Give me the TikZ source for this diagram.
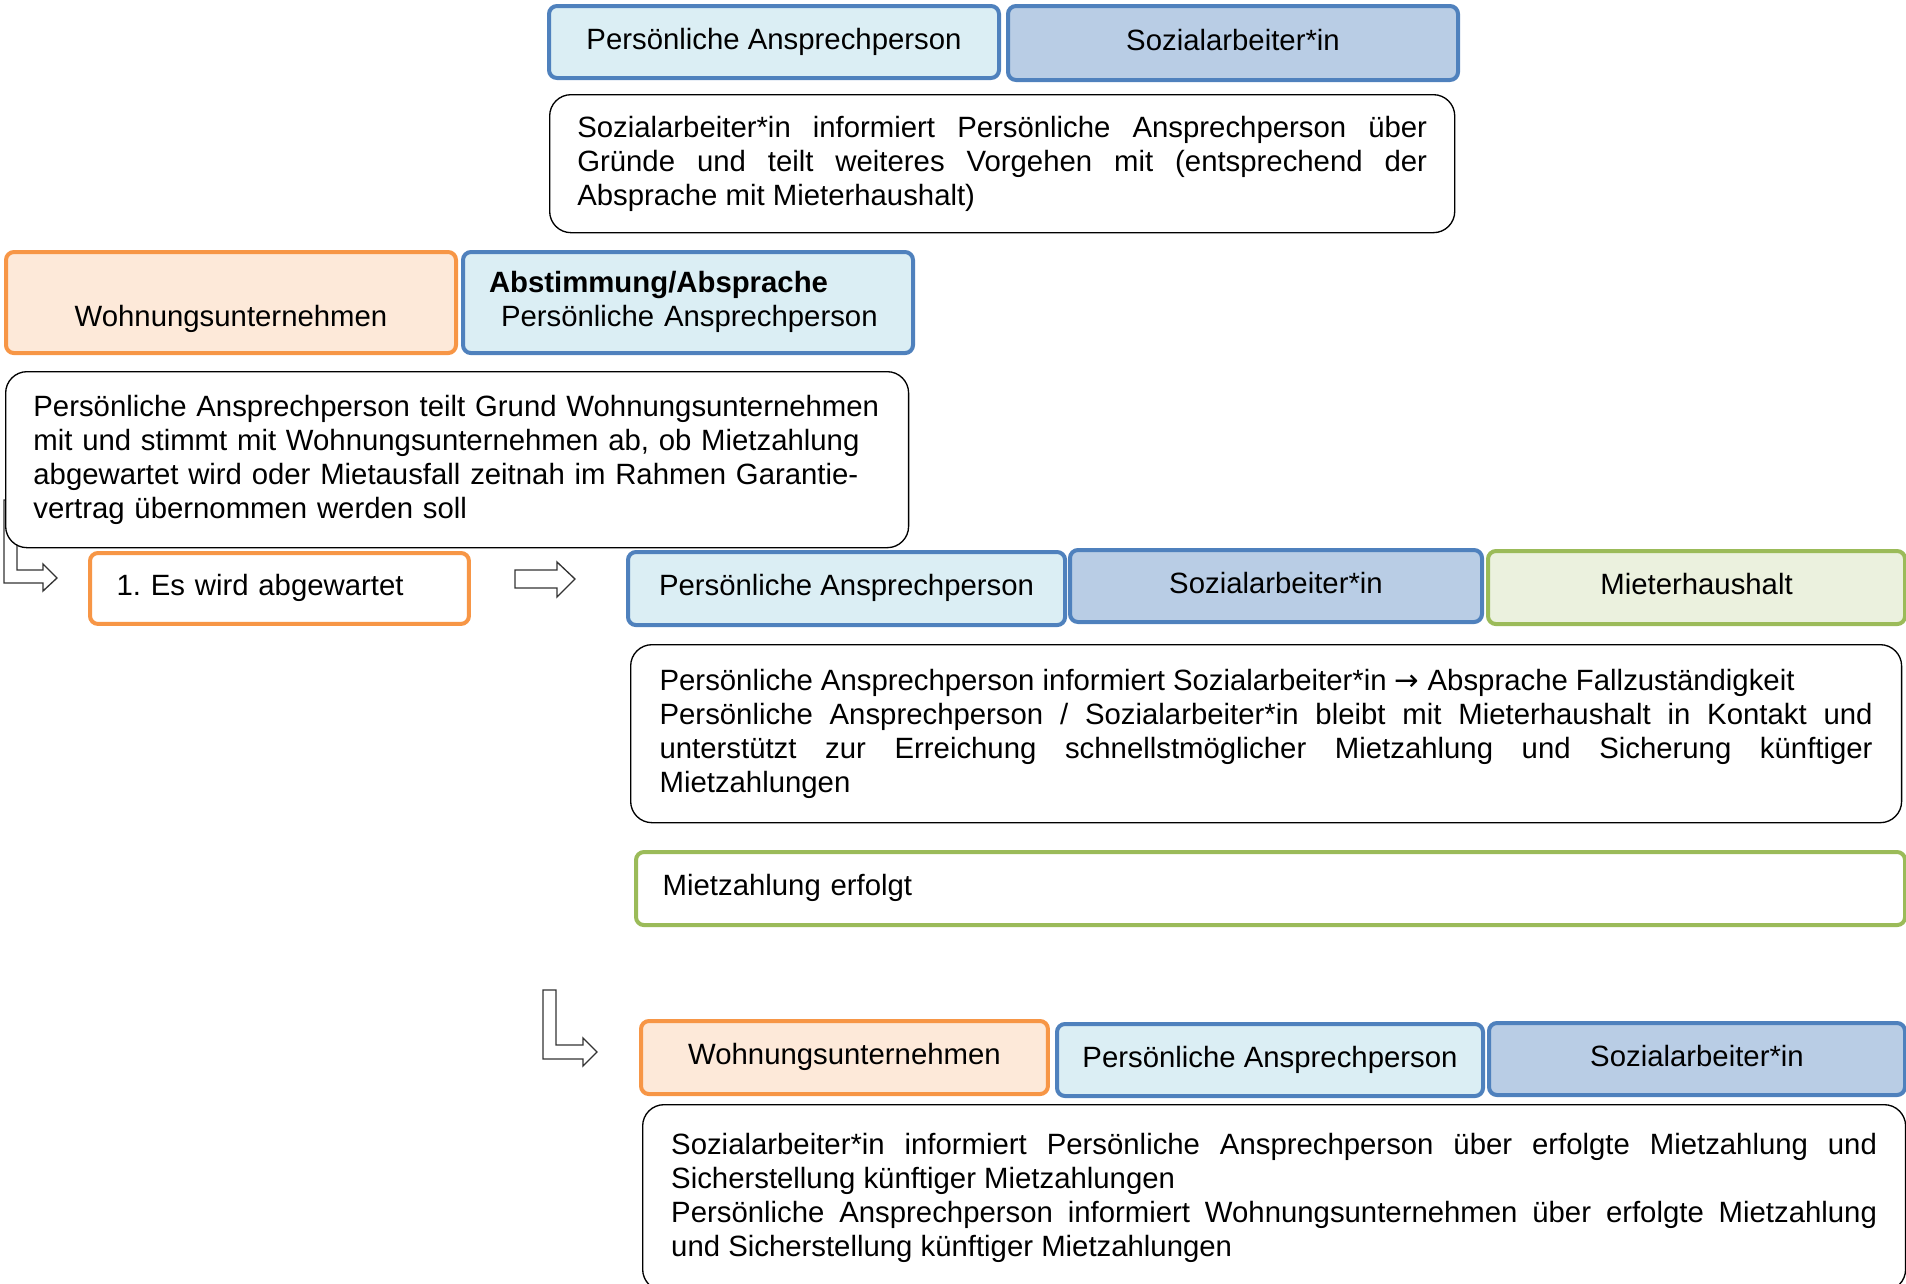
\documentclass[tikz,border=0pt]{standalone}
\usepackage{fontspec}
\setmainfont{Liberation Sans}
\newfontfamily\arrowfont{DejaVu Sans}
\usepackage{xcolor}
\usepackage{tikz}
\definecolor{roleline}{HTML}{4F81BD}
\definecolor{rolepale}{HTML}{DBEEF4}
\definecolor{rolesteel}{HTML}{B9CDE5}
\definecolor{firmline}{HTML}{F79646}
\definecolor{firmpale}{HTML}{FDE9D9}
\definecolor{tenantline}{HTML}{9BBB59}
\definecolor{tenantpale}{HTML}{EBF1DE}
\hyphenpenalty=10000
\exhyphenpenalty=10000
\tolerance=10000
\tikzset{
  bodyfont/.style={font=\fontsize{11}{12.75}\selectfont},
  rolebox/.style={bodyfont, anchor=north west, rounded corners=3pt, line width=1.5pt,
    inner sep=0pt, align=center, text height=8pt, text depth=2.6pt},
  contact/.style={rolebox, draw=roleline, fill=rolepale},
  social/.style={rolebox, draw=roleline, fill=rolesteel},
  firm/.style={rolebox, draw=firmline, fill=firmpale},
  tenant/.style={rolebox, draw=tenantline, fill=tenantpale},
  notebox/.style={bodyfont, anchor=north west, draw=black, fill=white, line width=0.5pt,
    rounded corners=8pt, inner ysep=0pt},
  blockarrow/.style={draw=black!80, fill=white, line width=0.5pt}
}

\begin{document}
\begin{tikzpicture}[x=0.375pt,y=-0.375pt]
      \clip (0,0) rectangle (1906,1283);
      % Pfeile
      \draw[blockarrow] (4,500) -- (17,500) -- (17,570) -- (43,570) -- (43,564) -- (57,578)
        -- (43,591) -- (43,583) -- (4,583) -- cycle;
      \draw[blockarrow] (515,570) -- (557,570) -- (557,562) -- (575,579) -- (557,597)
        -- (557,588) -- (515,588) -- cycle;
      \draw[blockarrow] (543,990) -- (556,990) -- (556,1045) -- (583,1045) -- (583,1038)
        -- (597,1052) -- (583,1066) -- (583,1059) -- (543,1059) -- cycle;

      % oben
      \node[contact, minimum width=168.75pt, minimum height=27pt] (pa1) at (547,4)
        {Persönliche Ansprechperson};
      \node[social, minimum width=168.75pt, minimum height=27.75pt] (sa1) at (1006,4)
        {Sozialarbeiter*in};
      \node[notebox, minimum width=339.4pt, minimum height=51.75pt, text width=318.7pt,
            inner xsep=10.35pt, align=justify] (info1) at (549,94)
        {Sozialarbeiter*in informiert Persönliche Ansprechperson über\linebreak
         Gründe und teilt weiteres Vorgehen mit (entsprechend der\linebreak
         Absprache mit Mieterhaushalt)};

      % Abstimmung
      \node[firm, minimum width=168.75pt, minimum height=37.9pt, text height=20.8pt] (wu1) at (4,250)
        {\strut\\Wohnungsunternehmen};
      \node[contact, minimum width=168.75pt, minimum height=37.9pt, text height=8pt,
            text depth=15.35pt, text width=149.25pt, inner xsep=9.75pt, align=left] (pa0) at (461,250)
        {\textbf{Abstimmung/Absprache}\\\hspace*{4.5pt}Persönliche Ansprechperson};
      \node[notebox, minimum width=338.6pt, minimum height=66pt, text width=317.8pt,
            inner xsep=10.4pt, align=left] (info2) at (5,371)
        {Persönliche Ansprechperson teilt Grund Wohnungsunternehmen\\
         mit und stimmt mit Wohnungsunternehmen ab, ob Mietzahlung\\
         abgewartet wird oder Mietausfall zeitnah im Rahmen Garantie-\\
         vertrag übernommen werden soll};

      % 1. Es wird abgewartet
      \node[firm, fill=white, minimum width=142.1pt, minimum height=26.6pt, text width=122.1pt,
            inner xsep=10pt, align=left] (wait) at (88,551) {1.\ Es wird abgewartet};
      \node[contact, minimum width=163.9pt, minimum height=27.4pt] (pa2) at (626,550)
        {Persönliche Ansprechperson};
      \node[social, minimum width=154.5pt, minimum height=27pt] (sa2) at (1068,548)
        {Sozialarbeiter*in};
      \node[tenant, minimum width=156.4pt, minimum height=27.4pt] (mh2) at (1486,549)
        {Mieterhaushalt};
      \node[notebox, minimum width=476.6pt, minimum height=66.75pt, text width=454.9pt,
            inner xsep=10.85pt, align=justify] (info3) at (630,644)
        {Persönliche Ansprechperson informiert Sozialarbeiter*in {\arrowfont →} Absprache Fallzuständigkeit\\
         Persönliche Ansprechperson / Sozialarbeiter*in bleibt mit Mieterhaushalt in Kontakt und\linebreak
         unterstützt zur Erreichung schnellstmöglicher Mietzahlung und Sicherung künftiger\linebreak
         Mietzahlungen};
      \node[tenant, fill=white, minimum width=475.9pt, minimum height=27.4pt, text width=455.9pt,
            inner xsep=10pt, align=left] (paid) at (634,850) {Mietzahlung erfolgt};

      % Rückmeldung
      \node[firm, minimum width=152.6pt, minimum height=27.4pt] (wu3) at (639,1019)
        {Wohnungsunternehmen};
      \node[contact, minimum width=159.75pt, minimum height=27pt] (pa3) at (1055,1022)
        {Persönliche Ansprechperson};
      \node[social, minimum width=156pt, minimum height=27pt] (sa3) at (1487,1021)
        {Sozialarbeiter*in};
      \node[notebox, minimum width=473.6pt, minimum height=69.75pt, text width=452.2pt,
            inner xsep=10.7pt, align=justify] (info4) at (642,1104)
        {Sozialarbeiter*in informiert Persönliche Ansprechperson über erfolgte Mietzahlung und\linebreak
         Sicherstellung künftiger Mietzahlungen\\
         Persönliche Ansprechperson informiert Wohnungsunternehmen über erfolgte Mietzahlung\linebreak
         und Sicherstellung künftiger Mietzahlungen};
    \end{tikzpicture}
\end{document}
